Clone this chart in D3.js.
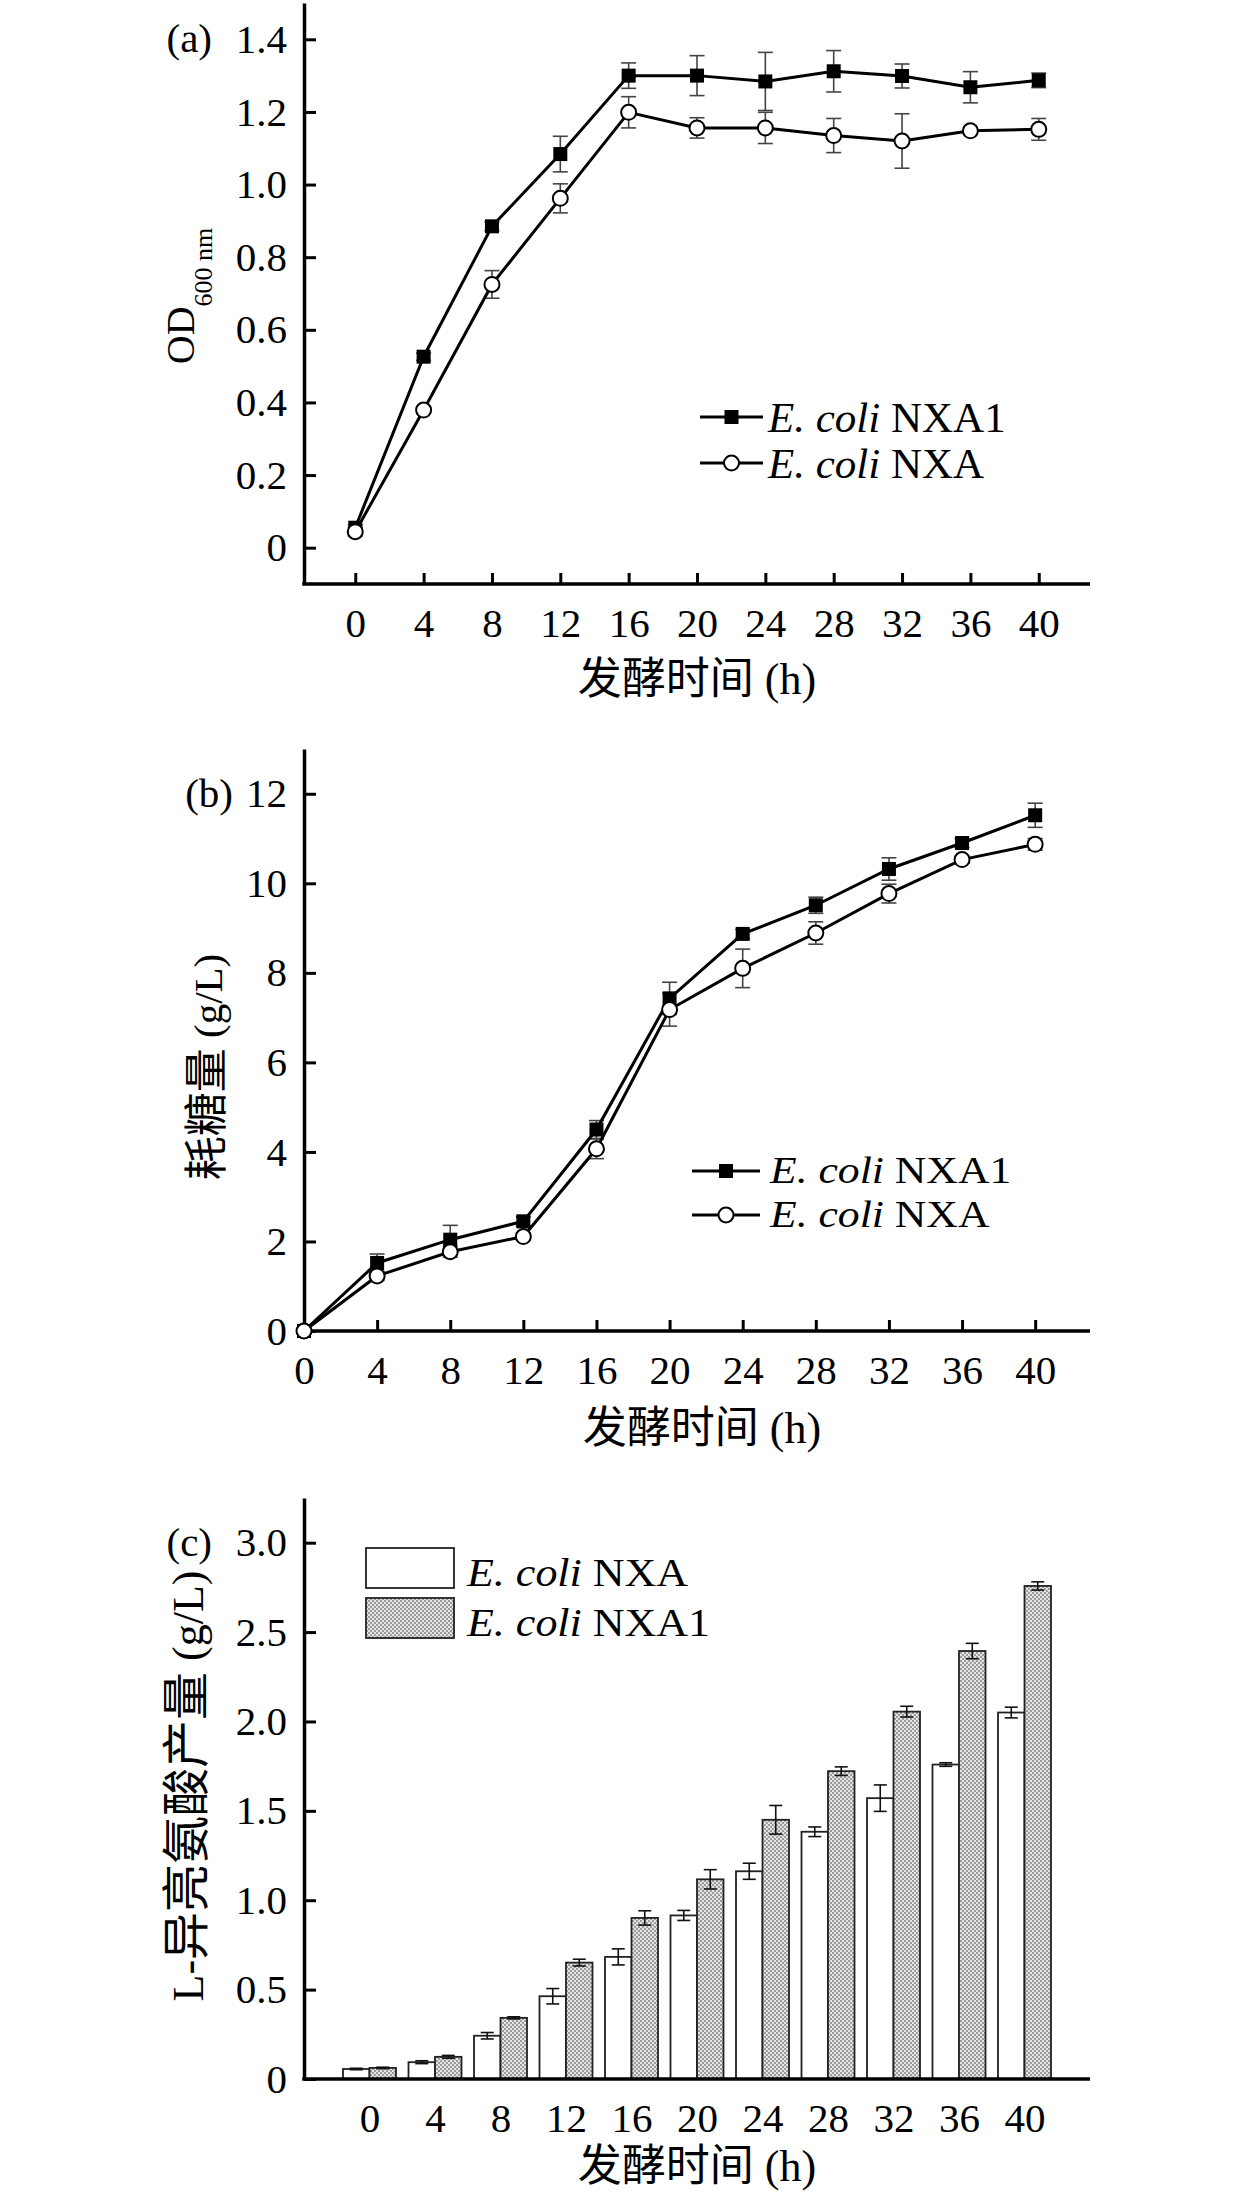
<!DOCTYPE html>
<html>
<head>
  <meta charset="utf-8">
  <title>Fermentation curves of E. coli NXA and NXA1</title>
  <script src="https://d3js.org/d3.v7.min.js"></script>
  <style>
    body { margin: 0; background: #fff; }
    svg { display: block; }
  </style>
</head>
<body>
<script>
  const width = 1260;
  const height = 2203;

  const SERIF = '"Liberation Serif", "Times New Roman", Times, "Noto Sans CJK SC", serif';

  // fermentation time (h)
  const hours = [0, 4, 8, 12, 16, 20, 24, 28, 32, 36, 40];

  // (a) OD600
  const odNXA1 = [0.055, 0.526, 0.885, 1.084, 1.300, 1.300, 1.284, 1.312, 1.299, 1.268, 1.287];
  const odNXA1Err = [0.008, 0.010, 0.012, 0.049, 0.035, 0.055, 0.080, 0.057, 0.033, 0.043, 0.020];
  const odNXA = [0.044, 0.379, 0.725, 0.962, 1.199, 1.156, 1.156, 1.135, 1.120, 1.148, 1.152];
  const odNXAErr = [0.012, 0.010, 0.038, 0.040, 0.043, 0.028, 0.043, 0.047, 0.075, 0.010, 0.030];
  const odTicks = [0, 0.2, 0.4, 0.6, 0.8, 1.0, 1.2, 1.4];

  // (b) consumed sugar (g/L)
  const sugarNXA1 = [0, 1.52, 2.04, 2.45, 4.50, 7.43, 8.87, 9.51, 10.32, 10.90, 11.52];
  const sugarNXA1Err = [0, 0.20, 0.32, 0.10, 0.20, 0.36, 0.10, 0.18, 0.25, 0.10, 0.27];
  const sugarNXA = [0, 1.23, 1.77, 2.11, 4.07, 7.18, 8.10, 8.89, 9.77, 10.53, 10.87];
  const sugarNXAErr = [0, 0.10, 0.12, 0.08, 0.22, 0.37, 0.43, 0.25, 0.21, 0.08, 0.13];
  const sugarTicks = [0, 2, 4, 6, 8, 10, 12];

  // (c) L-isoleucine (g/L)
  const ileNXA = [0.056, 0.094, 0.242, 0.463, 0.683, 0.915, 1.162, 1.383, 1.571, 1.759, 2.050];
  const ileNXAErr = [0.004, 0.008, 0.018, 0.043, 0.045, 0.028, 0.045, 0.027, 0.074, 0.010, 0.030];
  const ileNXA1 = [0.062, 0.124, 0.342, 0.651, 0.901, 1.117, 1.450, 1.722, 2.055, 2.394, 2.758];
  const ileNXA1Err = [0.004, 0.008, 0.006, 0.019, 0.040, 0.054, 0.080, 0.024, 0.030, 0.043, 0.023];
  const ileTicks = [0, 0.5, 1.0, 1.5, 2.0, 2.5, 3.0];

  const fmt1 = d => d === 0 ? "0" : d.toFixed(1);

  const svg = d3.select("body")
    .append("svg")
    .attr("width", width)
    .attr("height", height)
    .attr("font-family", SERIF);

  svg.append("rect").attr("width", width).attr("height", height).attr("fill", "#fff");

  // stipple fill for the NXA1 bars
  const pat = svg.append("defs").append("pattern")
    .attr("id", "stipple")
    .attr("patternUnits", "userSpaceOnUse")
    .attr("width", 4).attr("height", 4);
  pat.append("rect").attr("width", 4).attr("height", 4).attr("fill", "#e4e4e4");
  pat.append("rect").attr("width", 2).attr("height", 2).attr("fill", "#9c9c9c");
  pat.append("rect").attr("x", 2).attr("y", 2).attr("width", 2).attr("height", 2).attr("fill", "#9c9c9c");

  function drawAxes(g, x, y, yTicks, yFmt, xTicks, xTickSize) {
    const ya = g.append("g")
      .attr("transform", `translate(${x.range()[0]},0)`)
      .call(d3.axisLeft(y).tickValues(yTicks).tickFormat(yFmt)
        .tickSizeInner(-12).tickSizeOuter(0).tickPadding(17));
    const xa = g.append("g")
      .attr("transform", `translate(0,${y.range()[0]})`)
      .call(d3.axisBottom(x).tickValues(xTicks).tickFormat(d3.format("d"))
        .tickSizeInner(xTickSize).tickSizeOuter(0).tickPadding(24));
    [ya, xa].forEach(a => {
      a.attr("font-family", SERIF).attr("font-size", 41);
      a.select(".domain").attr("stroke", "#000").attr("stroke-width", 3.5);
      a.selectAll(".tick line").attr("stroke", "#000").attr("stroke-width", 3);
      a.selectAll(".tick text").attr("fill", "#000");
    });
    // extend the x axis line to meet the y axis cleanly
    xa.select(".domain").attr("d", `M${x.range()[0] - 1.75},0H${x.range()[1]}`);
    return xa;
  }

  function xTitle(g, cx, cy) {
    g.append("text")
      .attr("x", cx).attr("y", cy)
      .attr("text-anchor", "middle")
      .attr("dominant-baseline", "central")
      .attr("font-size", 44)
      .text("发酵时间 (h)");
  }

  function panelLabel(g, text, x, y) {
    g.append("text").attr("x", x).attr("y", y)
      .attr("text-anchor", "end").attr("dy", "0.32em")
      .attr("font-size", 41).text(text);
  }

  function errorBars(g, xs, ys, errs, x, y, color, w, cap) {
    const eb = g.append("g").attr("stroke", color).attr("stroke-width", w).attr("fill", "none");
    xs.forEach((h, i) => {
      if (!errs[i]) return;
      const cx = x(h);
      const y0 = y(ys[i] - errs[i]), y1 = y(ys[i] + errs[i]);
      eb.append("line").attr("x1", cx).attr("x2", cx).attr("y1", y0).attr("y2", y1);
      eb.append("line").attr("x1", cx - cap).attr("x2", cx + cap).attr("y1", y0).attr("y2", y0);
      eb.append("line").attr("x1", cx - cap).attr("x2", cx + cap).attr("y1", y1).attr("y2", y1);
    });
  }

  function drawSeries(g, xs, ys, x, y, kind) {
    const line = d3.line().x((d, i) => x(xs[i])).y(d => y(d));
    g.append("path").datum(ys)
      .attr("d", line)
      .attr("fill", "none").attr("stroke", "#000").attr("stroke-width", 3);
    drawMarkers(g, xs.map((h, i) => [x(h), y(ys[i])]), kind);
  }

  function drawMarkers(g, pts, kind) {
    if (kind === "square") {
      g.selectAll(null).data(pts).join("rect")
        .attr("x", d => d[0] - 7).attr("y", d => d[1] - 7)
        .attr("width", 14).attr("height", 14).attr("fill", "#000");
    } else {
      g.selectAll(null).data(pts).join("circle")
        .attr("cx", d => d[0]).attr("cy", d => d[1]).attr("r", 7.5)
        .attr("fill", "#fff").attr("stroke", "#000").attr("stroke-width", 2);
    }
  }

  // legend label "E. coli NAME", optionally widened like the source artwork
  function strainLabel(g, x, y, size, sx, name) {
    const t = g.append("text")
      .attr("transform", `translate(${x},${y}) scale(${sx},1)`)
      .attr("font-size", size);
    t.append("tspan").attr("font-style", "italic").text("E. coli");
    t.append("tspan").text(" " + name);
  }

  function lineLegend(g, x1, x2, tx, size, sx, off, rows) {
    rows.forEach(r => {
      g.append("line").attr("x1", x1).attr("x2", x2).attr("y1", r.y).attr("y2", r.y)
        .attr("stroke", "#000").attr("stroke-width", 3);
      drawMarkers(g, [[(x1 + x2) / 2, r.y]], r.kind);
      strainLabel(g, tx, r.y + off, size, sx, r.name);
    });
  }

  // ---------- (a) OD600 ----------
  {
    const g = svg.append("g");
    const x = d3.scaleLinear().domain([-3, 43]).range([304, 1090]);
    const y = d3.scaleLinear().domain([-0.1, 1.5]).range([584, 3]);
    drawAxes(g, x, y, odTicks, fmt1, hours, -11);
    errorBars(g, hours, odNXA1, odNXA1Err, x, y, "#444", 1.6, 7.5);
    errorBars(g, hours, odNXA, odNXAErr, x, y, "#444", 1.6, 7.5);
    drawSeries(g, hours, odNXA1, x, y, "square");
    drawSeries(g, hours, odNXA, x, y, "circle");
    lineLegend(g, 700, 763, 768, 43, 1.0, 15, [
      {y: 417, kind: "square", name: "NXA1"},
      {y: 463, kind: "circle", name: "NXA"}
    ]);
    panelLabel(g, "(a)", 212, y(1.4));
    const yt = g.append("text")
      .attr("transform", "translate(193.5,296) rotate(-90)")
      .attr("text-anchor", "middle");
    yt.append("tspan").attr("font-size", 40).text("OD");
    yt.append("tspan").attr("font-size", 26).attr("dy", 18.5).text("600 nm");
    xTitle(g, 697, 679);
  }

  // ---------- (b) consumed sugar ----------
  {
    const g = svg.append("g");
    const x = d3.scaleLinear().domain([0, 43]).range([304, 1090]);
    const y = d3.scaleLinear().domain([0, 13]).range([1331, 749]);
    drawAxes(g, x, y, sugarTicks, d3.format("d"), hours, -11);
    errorBars(g, hours, sugarNXA1, sugarNXA1Err, x, y, "#444", 1.6, 7.5);
    errorBars(g, hours, sugarNXA, sugarNXAErr, x, y, "#444", 1.6, 7.5);
    drawSeries(g, hours, sugarNXA1, x, y, "square");
    drawSeries(g, hours, sugarNXA, x, y, "circle");
    lineLegend(g, 692, 760, 770, 37, 1.18, 12, [
      {y: 1171, kind: "square", name: "NXA1"},
      {y: 1215, kind: "circle", name: "NXA"}
    ]);
    panelLabel(g, "(b)", 233, y(12));
    const yt = g.append("text")
      .attr("transform", "translate(222,1067) rotate(-90)")
      .attr("text-anchor", "middle").attr("font-size", 41);
    yt.append("tspan").attr("font-size", 44).text("耗糖量");
    yt.append("tspan").text(" (g/L)");
    xTitle(g, 702, 1428);
  }

  // ---------- (c) L-isoleucine ----------
  {
    const g = svg.append("g");
    const x = d3.scaleLinear().domain([-4, 44]).range([304, 1090]);
    const y = d3.scaleLinear().domain([0, 3.25]).range([2079, 1498]);
    const barW = 26.5;

    const bars = g.append("g").attr("stroke", "#222").attr("stroke-width", 1.8);
    bars.selectAll(null).data(hours).join("rect")
      .attr("x", d => x(d) - barW)
      .attr("y", (d, i) => y(ileNXA[i]))
      .attr("width", barW)
      .attr("height", (d, i) => y(0) - y(ileNXA[i]))
      .attr("fill", "#fff");
    bars.selectAll(null).data(hours).join("rect")
      .attr("x", d => x(d))
      .attr("y", (d, i) => y(ileNXA1[i]))
      .attr("width", barW)
      .attr("height", (d, i) => y(0) - y(ileNXA1[i]))
      .attr("fill", "url(#stipple)");

    const half = barW / 2 / (x(1) - x(0));
    errorBars(g, hours.map(h => h - half), ileNXA, ileNXAErr, x, y, "#111", 1.6, 6.5);
    errorBars(g, hours.map(h => h + half), ileNXA1, ileNXA1Err, x, y, "#111", 1.6, 6.5);

    drawAxes(g, x, y, ileTicks, fmt1, hours, 0);

    // legend
    const lg = g.append("g");
    [{y: 1548, fill: "#fff", name: "NXA"}, {y: 1598, fill: "url(#stipple)", name: "NXA1"}]
      .forEach(r => {
        lg.append("rect").attr("x", 366).attr("y", r.y).attr("width", 88).attr("height", 40)
          .attr("fill", r.fill).attr("stroke", "#222").attr("stroke-width", 1.8);
        strainLabel(lg, 467, r.y + 38, 40, 1.1, r.name);
      });

    panelLabel(g, "(c)", 212, y(3.0));
    const yt = g.append("text")
      .attr("transform", "translate(203,1786) rotate(-90)")
      .attr("text-anchor", "middle").attr("font-size", 44);
    yt.append("tspan").text("L-");
    yt.append("tspan").attr("font-size", 48).text("异亮氨酸产量");
    yt.append("tspan").text(" (g/L)");
    xTitle(g, 697, 2166);
  }
</script>
</body>
</html>
